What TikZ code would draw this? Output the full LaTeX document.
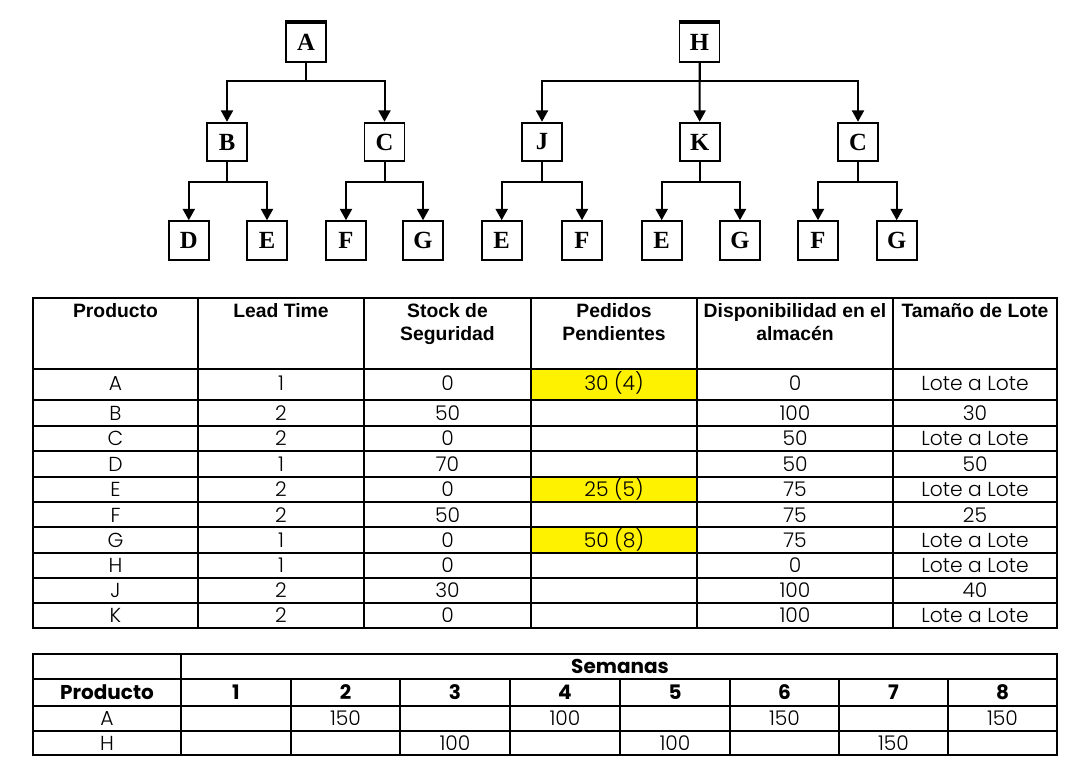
\documentclass[tikz,border=0pt]{standalone}
\usepackage{fontspec}
\setmainfont{Liberation Serif}
\newfontfamily\hdrfont{Liberation Sans}
\newfontfamily\bodyfont{Poppins}[UprightFont={* Light},BoldFont={* Bold}]
\usetikzlibrary{arrows.meta}
\tikzset{
  bom/.style={draw, line width=1.4pt, minimum width=30pt, minimum height=29pt, inner sep=0pt,
    font=\bfseries\fontsize{18.5}{18.5}\selectfont},
  conn/.style={line width=1.5pt, -{Triangle[width=9pt,length=8.5pt]}},
  tline/.style={line width=0.8pt},
  hdr/.style={anchor=north, inner sep=0pt, align=center, font=\hdrfont\bfseries\fontsize{14.5}{17.25}\selectfont},
  cell/.style={anchor=base, inner sep=0pt, font=\bodyfont\fontsize{15.2}{17}\selectfont},
  bcell/.style={anchor=base, inner sep=0pt, font=\bodyfont\bfseries\fontsize{15}{17}\selectfont}
}
\begin{document}
\begin{tikzpicture}[x=0.75pt,y=-0.75pt]
\useasboundingbox (0,0) rectangle (1071,779);
\fill[white] (0,0) rectangle (1071,779);

% ---------- tree A ----------
\node[bom] (A) at (306,42.5) {A};
\node[bom] (B) at (227,142) {B};
\node[bom] (C1) at (384.5,142) {C};
\node[bom] (D) at (188.8,240.5) {D};
\node[bom] (E1) at (267,240.5) {E};
\node[bom] (F1) at (346,240.5) {F};
\node[bom] (G1) at (423,240.5) {G};
\draw[line width=2.8pt] (A.north west) -- (A.north east);
\draw[conn] (A.south) -- ++(0,18.5) -| (B.north);
\draw[conn] (A.south) -- ++(0,18.5) -| (C1.north);
\draw[conn] (B.south) -- ++(0,20) -| (D.north);
\draw[conn] (B.south) -- ++(0,20) -| (E1.north);
\draw[conn] (C1.south) -- ++(0,20) -| (F1.north);
\draw[conn] (C1.south) -- ++(0,20) -| (G1.north);

% ---------- tree H ----------
\node[bom] (H) at (699.5,42.5) {H};
\node[bom] (J) at (542,142) {J};
\node[bom] (K) at (699.7,142) {K};
\node[bom] (C2) at (858,142) {C};
\node[bom] (E2) at (501.7,240.5) {E};
\node[bom] (F2) at (582,240.5) {F};
\node[bom] (E3) at (661.7,240.5) {E};
\node[bom] (G2) at (740,240.5) {G};
\node[bom] (F3) at (818,240.5) {F};
\node[bom] (G3) at (896.7,240.5) {G};
\draw[line width=2.8pt] (H.north west) -- (H.north east);
\draw[conn] (H.south) -- ++(0,18.5) -| (J.north);
\draw[conn] (H.south) -- (K.north);
\draw[conn] (H.south) -- ++(0,18.5) -| (C2.north);
\draw[conn] (J.south) -- ++(0,20) -| (E2.north);
\draw[conn] (J.south) -- ++(0,20) -| (F2.north);
\draw[conn] (K.south) -- ++(0,20) -| (E3.north);
\draw[conn] (K.south) -- ++(0,20) -| (G2.north);
\draw[conn] (C2.south) -- ++(0,20) -| (F3.north);
\draw[conn] (C2.south) -- ++(0,20) -| (G3.north);

% ---------- table 1 ----------
\fill[yellow] (531,369) rectangle (697,400);
\fill[yellow] (531,477) rectangle (697,502);
\fill[yellow] (531,527) rectangle (697,553);
\draw[tline] (33,298) rectangle (1057,628);
\foreach \xx in {198,364,531,697,893} \draw[tline] (\xx,298) -- (\xx,628);
\foreach \yy in {369,400,426,451,477,502,527,553,578,603} \draw[tline] (33,\yy) -- (1057,\yy);

\node[hdr] (h1) at (115.5,303.5) {Producto};
\node[hdr] (h2) at (281,303.5) {Lead Time};
\node[hdr] (h3) at (447.5,303.5) {Stock de\\Seguridad};
\node[hdr] (h4) at (614,303.5) {Pedidos\\Pendientes};
\node[hdr] (h5) at (795,303.5) {Disponibilidad en el\\almacén};
\node[hdr] (h6) at (975,303.5) {Tamaño de Lote};

\foreach \yc/\p/\lt/\ss/\pp/\dp/\tl [count=\i] in {
  383/A/1/0/30 (4)/0/Lote a Lote,
  413.5/B/2/50//100/30,
  438.5/C/2/0//50/Lote a Lote,
  464/D/1/70//50/50,
  489.5/E/2/0/25 (5)/75/Lote a Lote,
  515/F/2/50//75/25,
  540/G/1/0/50 (8)/75/Lote a Lote,
  565.5/H/1/0//0/Lote a Lote,
  590.5/J/2/30//100/40,
  615.5/K/2/0//100/Lote a Lote}
{
  \node[cell] (r\i-1) at (115.5,\yc+7) {\p};
  \node[cell] (r\i-2) at (281,\yc+7) {\lt};
  \node[cell] (r\i-3) at (447.5,\yc+7) {\ss};
  \node[cell] (r\i-4) at (614,\yc+7) {\pp};
  \node[cell] (r\i-5) at (795,\yc+7) {\dp};
  \node[cell] (r\i-6) at (975,\yc+7) {\tl};
}

% ---------- table 2 ----------
\draw[tline] (33,654) rectangle (1057,755);
\foreach \yy in {679,706,731} \draw[tline] (33,\yy) -- (1057,\yy);
\draw[tline] (181,654) -- (181,755);
\foreach \xx in {291,400,510,620,730,839,948} \draw[tline] (\xx,679) -- (\xx,755);

\node[bcell] (sem) at (620,666.5+7) {Semanas};
\node[bcell] (wp) at (107,692.5+7) {Producto};
\foreach \xc [count=\w] in {236,345.5,455,565,675,784.5,893.5,1002.5}
  \node[bcell] (w\w) at (\xc,692.5+7) {\w};
\node[cell] (pa) at (107,718.5+7) {A};
\node[cell] (ph) at (107,743+7) {H};
\node[cell] (a2) at (345.5,718.5+7) {150};
\node[cell] (a4) at (565,718.5+7) {100};
\node[cell] (a6) at (784.5,718.5+7) {150};
\node[cell] (a8) at (1002.5,718.5+7) {150};
\node[cell] (b3) at (455,743+7) {100};
\node[cell] (b5) at (675,743+7) {100};
\node[cell] (b7) at (893.5,743+7) {150};
\end{tikzpicture}
\end{document}
